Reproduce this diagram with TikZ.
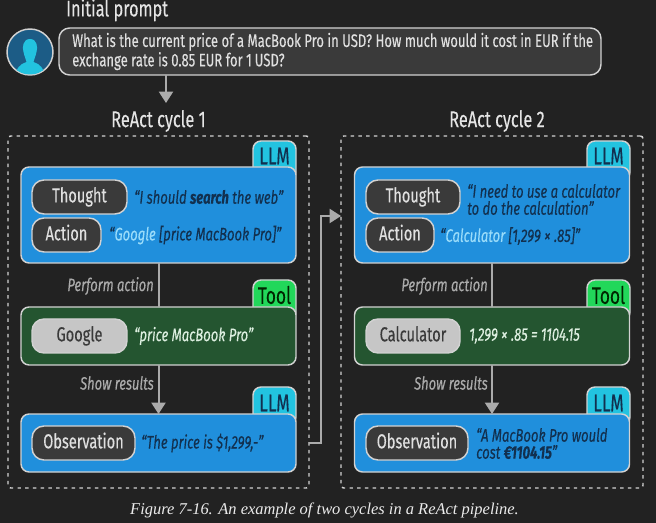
\documentclass[tikz,border=0pt]{standalone}
\usepackage{fontspec}
\usetikzlibrary{arrows.meta,calc}
\setmainfont[FakeStretch=0.72,FakeBold=0.25]{Fira Sans}
\newfontfamily\capfont{Liberation Serif}
\definecolor{bgc}{HTML}{222222}
\definecolor{edgec}{HTML}{D2D2D2}
\definecolor{linec}{HTML}{ABABAB}
\definecolor{pillc}{HTML}{3A3A3A}
\definecolor{bluec}{HTML}{208FDC}
\definecolor{greenc}{HTML}{245530}
\definecolor{cyanc}{HTML}{22C3E0}
\definecolor{limec}{HTML}{22D75A}
\definecolor{navyc}{HTML}{12304F}
\definecolor{skyc}{HTML}{9ADCFA}
\definecolor{mintc}{HTML}{DDEFE0}
\definecolor{lightp}{HTML}{C6C6C6}
\definecolor{avac}{HTML}{1C5C86}
\tikzset{
  x=0.75pt,y=-0.75pt,
  boxbase/.style={draw=edgec,line width=1.1pt,inner sep=0pt,outer sep=0pt,rounded corners=6pt},
  bluebox/.style={boxbase,fill=bluec},
  greenbox/.style={boxbase,fill=greenc},
  llmtab/.style={boxbase,fill=cyanc},
  tooltab/.style={boxbase,fill=limec},
  tabtext/.style={inner sep=0pt,font=\fontsize{18}{20}\selectfont},
  darkpill/.style={boxbase,fill=pillc,text=white!88!black,rounded corners=9pt,font=\fontsize{15.2}{16}\selectfont,text height=9.5pt,text depth=1.5pt},
  lightpill/.style={boxbase,fill=lightp,text=pillc,rounded corners=9pt,font=\fontsize{15.2}{16}\selectfont,text height=9.5pt,text depth=1.5pt},
  dashbox/.style={draw=edgec,line width=1.1pt,dash pattern=on 2.6pt off 3.2pt,inner sep=0pt,outer sep=0pt,rounded corners=2pt},
  say/.style={anchor=west,inner sep=0pt,align=left,font=\fontsize{13.6}{12.75}\selectfont\itshape,text=navyc},
  saygreen/.style={say,text=mintc},
  heading/.style={inner sep=0pt,text=white!90!black,font=\fontsize{17}{18}\selectfont},
  edgelabel/.style={anchor=east,inner sep=0pt,text=linec,font=\fontsize{13.5}{14}\selectfont\itshape},
  flow/.style={draw=linec,line width=1.5pt},
  flowhead/.style={flow,-{Triangle[width=10.5pt,length=8.5pt,fill=linec]}},
}
\newcommand{\pxbox}[6]{\node[#1,minimum width={(#5-#3)*0.75pt},minimum height={(#6-#4)*0.75pt}] (#2) at ({(#3+#5)/2},{(#4+#6)/2})}
\begin{document}
\begin{tikzpicture}
\useasboundingbox (0,0) rectangle (656,523);
\fill[bgc] (0,0) rectangle (656,523);

% Header
\node[heading,anchor=west] (title) at (66,10) {Initial prompt};
\pxbox{boxbase,fill=pillc,rounded corners=8pt}{prompt}{59}{28}{601}{75} {};
\node[anchor=west,inner sep=0pt,align=left,text=white!88!black,font=\fontsize{13.6}{12.75}\selectfont] (prompttext) at (72,51.5)
  {What is the current price of a MacBook Pro in USD? How much would it cost in EUR if the\\exchange rate is 0.85 EUR for 1\,USD?};
% Avatar
\node[circle,draw=edgec,line width=1.1pt,fill=avac,minimum size=34.5pt,inner sep=0pt,outer sep=0pt] (avatar) at (30,52) {};
\begin{scope}
\clip (30,52) circle (22.5);
\fill[cyanc] (30,39) .. controls (23,39) and (22,47) .. (23.5,52)
  .. controls (24.5,57) and (26,59) .. (26.5,62)
  .. controls (20,64) and (16,68) .. (15,78) -- (45,78)
  .. controls (44,68) and (40,64) .. (33.5,62)
  .. controls (34,59) and (35.5,57) .. (36.5,52)
  .. controls (38,47) and (37,39) .. (30,39) -- cycle;
\end{scope}

% Dashed frames
\pxbox{dashbox}{dashone}{8}{136}{309}{488} {};
\pxbox{dashbox}{dashtwo}{341}{136}{643}{488} {};
\node[heading] (cycleone) at (158.5,121) {ReAct cycle 1};
\node[heading] (cycletwo) at (497,121) {ReAct cycle 2};

% Cycle 1
\pxbox{llmtab}{tabA}{253}{141}{296}{180} {};
\node[tabtext,text=navyc] (tabAt) at (274.5,156) {LLM};
\pxbox{bluebox}{thinkA}{21}{167}{296}{263} {};
\pxbox{darkpill}{thoughtA}{32}{180}{127}{214} {Thought};
\pxbox{darkpill}{actionA}{32}{218}{101}{252} {Action};
\node[say] (thoughtAt) at (134,197) {“I should \textbf{search} the web”};
\node[say] (actionAt) at (109,235) {“\textcolor{skyc}{Google} [price MacBook Pro]”};

\pxbox{tooltab}{tabB}{253}{280}{296}{320} {};
\node[tabtext,text=black!85!green] (tabBt) at (274.5,295) {Tool};
\pxbox{greenbox}{toolA}{21}{307}{296}{365} {};
\pxbox{lightpill}{googleA}{32}{319}{127}{353} {Google};
\node[saygreen] (googleAt) at (134,336) {“price MacBook Pro”};

\pxbox{llmtab}{tabC}{253}{387}{296}{425} {};
\node[tabtext,text=navyc] (tabCt) at (274.5,403) {LLM};
\pxbox{bluebox}{obsboxA}{21}{414}{296}{472} {};
\pxbox{darkpill}{obsA}{32}{426}{135}{460} {Observation};
\node[say] (obsAt) at (141,443) {“The price is \$1,299,-”};

% Cycle 2
\pxbox{llmtab}{tabD}{587}{141}{630}{180} {};
\node[tabtext,text=navyc] (tabDt) at (608.5,156) {LLM};
\pxbox{bluebox}{thinkB}{354.5}{167}{629.5}{263} {};
\pxbox{darkpill}{thoughtB}{366}{180}{460}{214} {Thought};
\pxbox{darkpill}{actionB}{366}{218}{434}{252} {Action};
\node[say] (thoughtBt) at (467,199.5) {“I need to use a calculator\\to do the calculation”};
\node[say] (actionBt) at (440,236) {“\textcolor{skyc}{Calculator} [1,299 × .85]”};

\pxbox{tooltab}{tabE}{587}{280}{630}{320} {};
\node[tabtext,text=black!85!green] (tabEt) at (608.5,295) {Tool};
\pxbox{greenbox}{toolB}{354.5}{307}{629.5}{365} {};
\pxbox{lightpill}{calcB}{366}{319}{460}{353} {Calculator};
\node[saygreen] (calcBt) at (469,336) {1,299 × .85 = 1104.15};

\pxbox{llmtab}{tabF}{587}{387}{630}{425} {};
\node[tabtext,text=navyc] (tabFt) at (608.5,403) {LLM};
\pxbox{bluebox}{obsboxB}{354.5}{414}{629.5}{472} {};
\pxbox{darkpill}{obsB}{366}{426}{468}{460} {Observation};
\node[say] (obsBt) at (476,443.5) {“A MacBook Pro would\\cost \textbf{€1104.15}”};

% Connectors
\coordinate (drop) at (166,103);
\draw[flowhead] (prompt.south -| drop) -- (drop);
\draw[flow] (thinkA.south) -- (toolA.north);
\draw[flowhead] (toolA.south) -- (obsboxA.north);
\draw[flow] (thinkB.south) -- (toolB.north);
\draw[flowhead] (toolB.south) -- (obsboxB.north);
\coordinate (elbow) at (320.5,216);
\draw[flowhead] (dashone.east |- obsboxA.center) -| (elbow) -- (dashtwo.west |- elbow);

% Labels
\node[edgelabel] (performA) at (154,286) {Perform action};
\node[edgelabel] (showA) at (154,383) {Show results};
\node[edgelabel] (performB) at (488,286) {Perform action};
\node[edgelabel] (showB) at (488,383) {Show results};

% Caption
\node[inner sep=0pt,text=white!92!black,font=\capfont\fontsize{12.35}{14}\selectfont\itshape] (caption) at (324.5,510) {Figure 7-16. An example of two cycles in a ReAct pipeline.};
\end{tikzpicture}
\end{document}
